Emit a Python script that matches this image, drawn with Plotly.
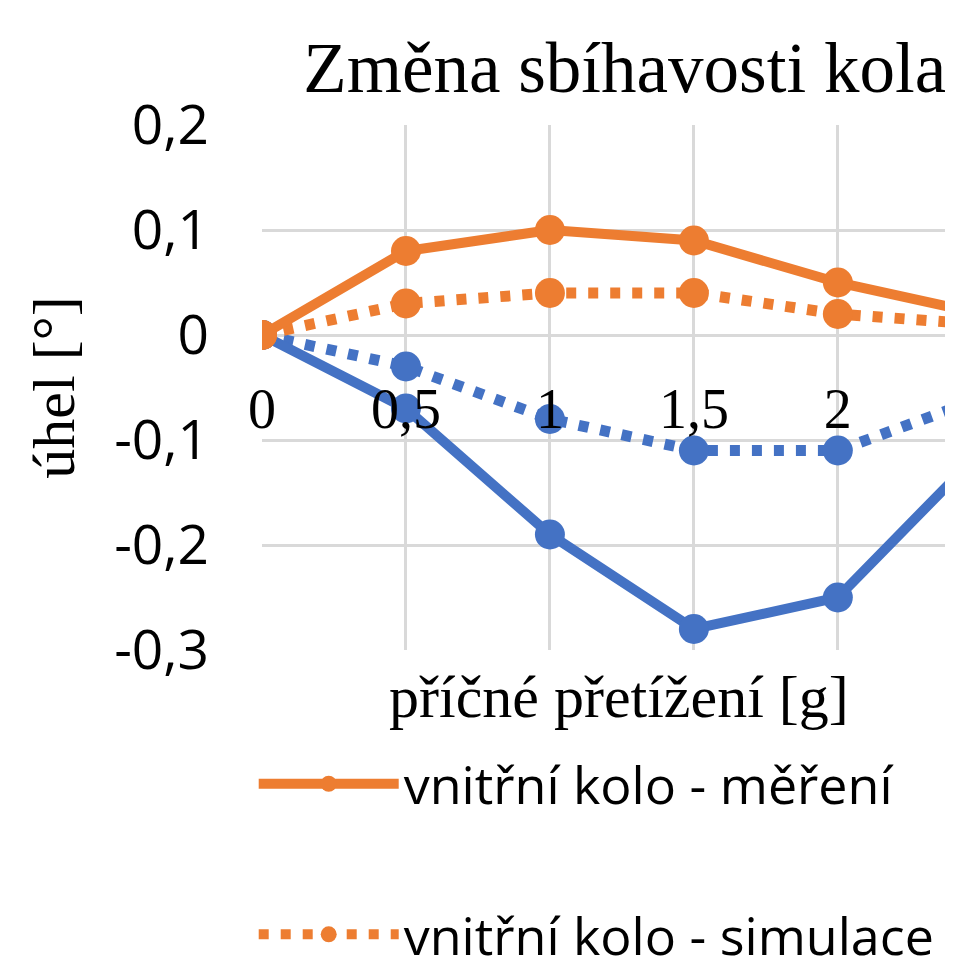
import plotly.graph_objects as go

# ---- data ----
pretizeni_g = [0, 0.5, 1, 1.5, 2, 2.5]
vnitrni_mereni = [0, 0.08, 0.10, 0.09, 0.05, 0.02]
vnitrni_simulace = [0, 0.03, 0.04, 0.04, 0.02, 0.01]
vnejsi_mereni = [0, -0.07, -0.19, -0.28, -0.25, -0.11]
vnejsi_simulace = [0, -0.03, -0.08, -0.11, -0.11, -0.06]

x_tick_vals = [0, 0.5, 1, 1.5, 2, 2.5]
x_tick_text = ["0", "0,5", "1", "1,5", "2", "2,5"]
y_tick_vals = [0.2, 0.1, 0, -0.1, -0.2, -0.3]
y_tick_text = ["0,2", "0,1", "0", "-0,1", "-0,2", "-0,3"]

ORANGE = "#ED7D31"
BLUE = "#4472C4"
GRID = "#D9D9D9"
SERIF = "Liberation Serif, Times New Roman, serif"
SANS = "Open Sans, sans-serif"

fig = go.Figure()

fig.add_trace(go.Scatter(
    x=pretizeni_g, y=vnejsi_simulace, name="vnější kolo - simulace",
    mode="lines+markers", showlegend=False,
    line=dict(color=BLUE, width=11, dash="10px,12px"),
    marker=dict(color=BLUE, size=30)))
fig.add_trace(go.Scatter(
    x=pretizeni_g, y=vnejsi_mereni, name="vnější kolo - měření",
    mode="lines+markers", showlegend=False,
    line=dict(color=BLUE, width=10),
    marker=dict(color=BLUE, size=30)))
fig.add_trace(go.Scatter(
    x=pretizeni_g, y=vnitrni_simulace, name="vnitřní kolo - simulace",
    mode="lines+markers", legendgroup="b", legendrank=2,
    line=dict(color=ORANGE, width=11, dash="10px,12px"),
    marker=dict(color=ORANGE, size=30)))
fig.add_trace(go.Scatter(
    x=pretizeni_g, y=vnitrni_mereni, name="vnitřní kolo - měření",
    mode="lines+markers", legendgroup="a", legendrank=1,
    line=dict(color=ORANGE, width=10),
    marker=dict(color=ORANGE, size=30)))
# empty trace so the label axis (x2) is rendered
fig.add_trace(go.Scatter(x=[], y=[], xaxis="x2", showlegend=False, hoverinfo="skip"))

XR = [0, 2.4]

fig.update_layout(
    width=945, height=953,
    margin=dict(l=254, r=0, t=117, b=311, autoexpand=False),
    paper_bgcolor="white", plot_bgcolor="white",
    title=dict(text="Změna sbíhavosti kola", font=dict(family=SERIF, size=71, color="#000"),
               x=0.525, xref="paper", xanchor="center",
               y=0.938, yref="container", yanchor="middle"),
    xaxis=dict(range=XR, tickvals=x_tick_vals, showticklabels=False,
               showgrid=True, gridcolor=GRID, gridwidth=3,
               zeroline=False, showline=False, ticks="", automargin=False),
    xaxis2=dict(range=XR, overlaying="x", anchor="free", position=0.598,
                tickvals=x_tick_vals, ticktext=x_tick_text,
                tickfont=dict(family=SERIF, size=56, color="#000"),
                showgrid=False, zeroline=False, showline=False, ticks="",
                ticklabelstandoff=35, automargin=False),
    yaxis=dict(range=[-0.3, 0.2], tickvals=y_tick_vals, ticktext=y_tick_text,
               tickfont=dict(family=SANS, size=55, color="#000"),
               showgrid=True, gridcolor=GRID, gridwidth=3,
               zeroline=False, showline=False, ticks="",
               ticklabelstandoff=52, automargin=False,
               title=dict(text="úhel [°]", font=dict(family=SERIF, size=60, color="#000"),
                          standoff=20)),
    legend=dict(x=-0.012, xanchor="left", y=-0.178, yanchor="top",
                font=dict(family=SANS, size=52, color="#000"),
                tracegroupgap=80, itemwidth=140, bgcolor="rgba(0,0,0,0)"),
    showlegend=True,
    annotations=[dict(text="příčné přetížení [g]", xref="paper", yref="paper",
                      x=0.517, y=-0.09, xanchor="center", yanchor="middle",
                      showarrow=False, font=dict(family=SERIF, size=60, color="#000"))],
)

fig.write_html("out.html")
